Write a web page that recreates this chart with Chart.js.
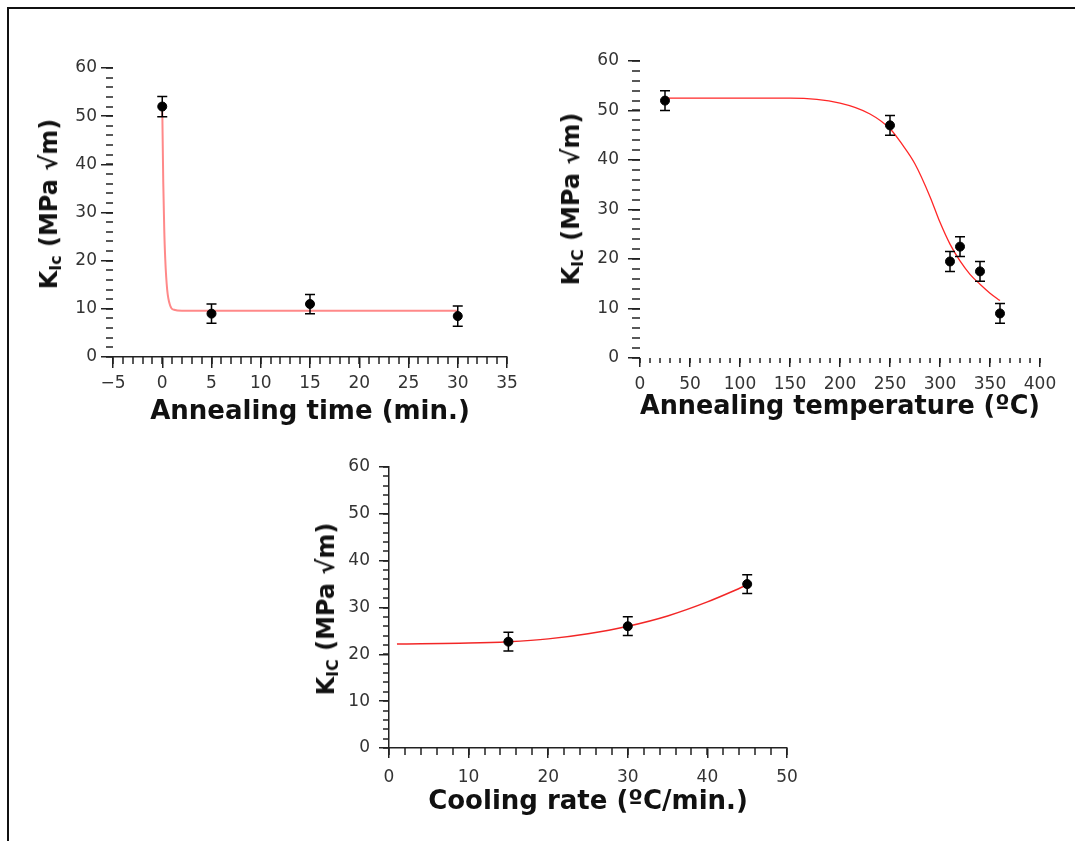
<!DOCTYPE html>
<html>
<head>
<meta charset="utf-8">
<script src="https://cdn.jsdelivr.net/npm/chart.js@4.4.1/dist/chart.umd.min.js"></script>
<style>
  body { margin: 0; background: #fff; width: 1075px; height: 841px; overflow: hidden; position: relative; }
  .frame { position: absolute; left: 7px; top: 7px; width: 1100px; height: 900px; border-top: 2px solid #111; border-left: 2px solid #111; }
  canvas { position: absolute; }
  .yt { position: absolute; transform: translate(-50%, -50%) rotate(-90deg); white-space: nowrap;
        font: bold 24px "DejaVu Sans", sans-serif; color: #111; line-height: 1; }
  .yt sub { font-size: 0.66em; vertical-align: -0.25em; line-height: 0; }
</style>
</head>
<body>
<div class="frame"></div>
<canvas id="c1" width="540" height="440" style="left:0;top:0"></canvas>
<canvas id="c2" width="535" height="440" style="left:540px;top:0"></canvas>
<canvas id="c3" width="560" height="401" style="left:260px;top:440px"></canvas>
<div class="yt" style="left:49px;top:204px">K<sub>Ic</sub> (MPa √m)</div>
<div class="yt" style="left:571px;top:199px">K<sub>IC</sub> (MPa √m)</div>
<div class="yt" style="left:326px;top:609px">K<sub>IC</sub> (MPa √m)</div>
<script>
// annealing time
const timeX = [0, 5, 15, 30];
const timeK = [52, 9, 11, 8.5];
const timeErr = [2.1, 2, 2, 2.1];
const timeFitX = [0, 0.1, 0.2, 0.3, 0.5, 0.8, 1.2, 2, 30];
const timeFitK = [52, 36.5, 26.7, 20.5, 14, 10.7, 9.8, 9.6, 9.6];

// annealing temperature
const tempX = [25, 250, 310, 320, 340, 360];
const tempK = [52, 47, 19.5, 22.5, 17.5, 9];
const tempErr = [2, 2, 2, 2, 2, 2];
const tempFitX = [25, 150, 200, 230, 250, 262, 275, 290, 300, 310, 320, 330, 340, 350, 360];
const tempFitK = [52.5, 52.5, 51.5, 49.3, 46.3, 43.2, 39.2, 32.6, 27.4, 23, 19.6, 16.9, 14.9, 13.1, 11.6];

// cooling rate
const rateX = [15, 30, 45];
const rateK = [22.7, 26, 35];
const rateErr = [2, 2, 2];
const rateFitX = [1, 10, 15, 20, 25, 30, 35, 40, 45];
const rateFitK = [22.2, 22.4, 22.7, 23.3, 24.4, 26, 28.2, 31.2, 34.8];

Chart.defaults.font.family = '"DejaVu Sans", sans-serif';
Chart.defaults.color = '#333';

const TICK = '#222';

// short unlabeled ticks between the labeled ones
function minorTicks(spec) {
  return {
    id: 'minorTicks',
    afterDraw(chart) {
      const ctx = chart.ctx;
      ctx.save();
      ctx.strokeStyle = TICK;
      ctx.lineWidth = 1.5;
      spec.forEach(m => {
        const s = chart.scales[m.axis];
        const n = Math.round((s.max - s.min) / m.step);
        for (let i = 0; i <= n; i++) {
          const p = Math.round(s.getPixelForValue(s.min + i * m.step));
          ctx.beginPath();
          if (s.isHorizontal()) {
            ctx.moveTo(p, s.top);
            ctx.lineTo(p, s.top + m.len);
          } else {
            ctx.moveTo(s.right - m.len, p);
            ctx.lineTo(s.right, p);
          }
          ctx.stroke();
        }
      });
      ctx.restore();
    }
  };
}

function errorBars(xs, ys, errs) {
  return {
    id: 'errorBars',
    afterDatasetsDraw(chart) {
      const { ctx, scales: { x, y } } = chart;
      ctx.save();
      ctx.strokeStyle = '#000';
      ctx.lineWidth = 1.5;
      xs.forEach((v, i) => {
        const px = x.getPixelForValue(v);
        const top = y.getPixelForValue(ys[i] + errs[i]);
        const bot = y.getPixelForValue(ys[i] - errs[i]);
        ctx.beginPath();
        ctx.moveTo(px, top); ctx.lineTo(px, bot);
        ctx.moveTo(px - 5, top); ctx.lineTo(px + 5, top);
        ctx.moveTo(px - 5, bot); ctx.lineTo(px + 5, bot);
        ctx.stroke();
      });
      ctx.restore();
    }
  };
}

function axis(o) {
  return {
    type: 'linear',
    min: o.min,
    max: o.max,
    border: { display: o.line, color: TICK, width: 1.5 },
    grid: { display: true, drawOnChartArea: false, drawTicks: true, tickLength: o.len,
            tickWidth: 1.5, tickColor: TICK, color: TICK, lineWidth: 1.5 },
    ticks: { stepSize: o.step, padding: o.pad, font: { size: 17 }, color: '#333',
             maxRotation: 0, autoSkip: false,
             callback: v => v < 0 ? '\u2212' + (-v) : String(v) },
    title: o.title ? { display: true, text: o.title, color: '#111',
                       font: { size: 26, weight: 'bold' }, padding: { top: 0, bottom: o.titlePad } }
                   : { display: false },
    afterFit: s => { if (o.width) s.width = o.width; if (o.height) s.height = o.height; }
  };
}

function makeChart(id, o) {
  return new Chart(document.getElementById(id), {
    type: 'scatter',
    data: {
      datasets: [
        {
          data: o.x.map((v, i) => ({ x: v, y: o.y[i] })),
          pointRadius: 4.5,
          pointBackgroundColor: '#000',
          pointBorderColor: '#000',
          clip: false
        },
        {
          type: 'line',
          data: o.fitX.map((v, i) => ({ x: v, y: o.fitY[i] })),
          pointRadius: 0,
          fill: false,
          borderColor: o.fitColor,
          borderWidth: o.fitWidth,
          cubicInterpolationMode: 'monotone',
          clip: false
        }
      ]
    },
    options: {
      responsive: false,
      animation: false,
      events: [],
      layout: { padding: o.pad },
      plugins: { legend: { display: false }, tooltip: { enabled: false } },
      scales: { x: axis(o.xAxis), y: axis(o.yAxis) }
    },
    plugins: [minorTicks(o.minor), errorBars(o.x, o.y, o.err)]
  });
}

makeChart('c1', {
  x: timeX, y: timeK, err: timeErr, fitX: timeFitX, fitY: timeFitK,
  fitColor: 'rgba(255,40,40,0.55)', fitWidth: 2,
  pad: { top: 68, left: 0, right: 33, bottom: 0 },
  xAxis: { min: -5, max: 35, step: 5, len: 11, pad: 5, line: true, height: 83,
           title: 'Annealing time (min.)', titlePad: 12 },
  yAxis: { min: 0, max: 60, step: 10, len: 12, pad: 4, line: false, width: 113 },
  minor: [{ axis: 'x', step: 1, len: 7 }, { axis: 'y', step: 2, len: 7 }]
});

makeChart('c2', {
  x: tempX, y: tempK, err: tempErr, fitX: tempFitX, fitY: tempFitK,
  fitColor: 'rgba(255,0,0,0.85)', fitWidth: 1.3,
  pad: { top: 61, left: 0, right: 35, bottom: 0 },
  xAxis: { min: 0, max: 400, step: 50, len: 9, pad: 7, line: false, height: 82,
           title: 'Annealing temperature (ºC)', titlePad: 17 },
  yAxis: { min: 0, max: 60, step: 10, len: 12, pad: 9, line: false, width: 100 },
  minor: [{ axis: 'x', step: 10, len: 5 }, { axis: 'y', step: 2, len: 8 }]
});

makeChart('c3', {
  x: rateX, y: rateK, err: rateErr, fitX: rateFitX, fitY: rateFitK,
  fitColor: 'rgba(240,0,0,0.85)', fitWidth: 1.5,
  pad: { top: 27, left: 0, right: 33, bottom: 0 },
  xAxis: { min: 0, max: 50, step: 10, len: 10, pad: 9, line: true, height: 93,
           title: 'Cooling rate (ºC/min.)', titlePad: 23 },
  yAxis: { min: 0, max: 60, step: 10, len: 10, pad: 9, line: true, width: 129 },
  minor: [{ axis: 'x', step: 2, len: 7 }, { axis: 'y', step: 2, len: 6 }]
});
</script>
</body>
</html>
